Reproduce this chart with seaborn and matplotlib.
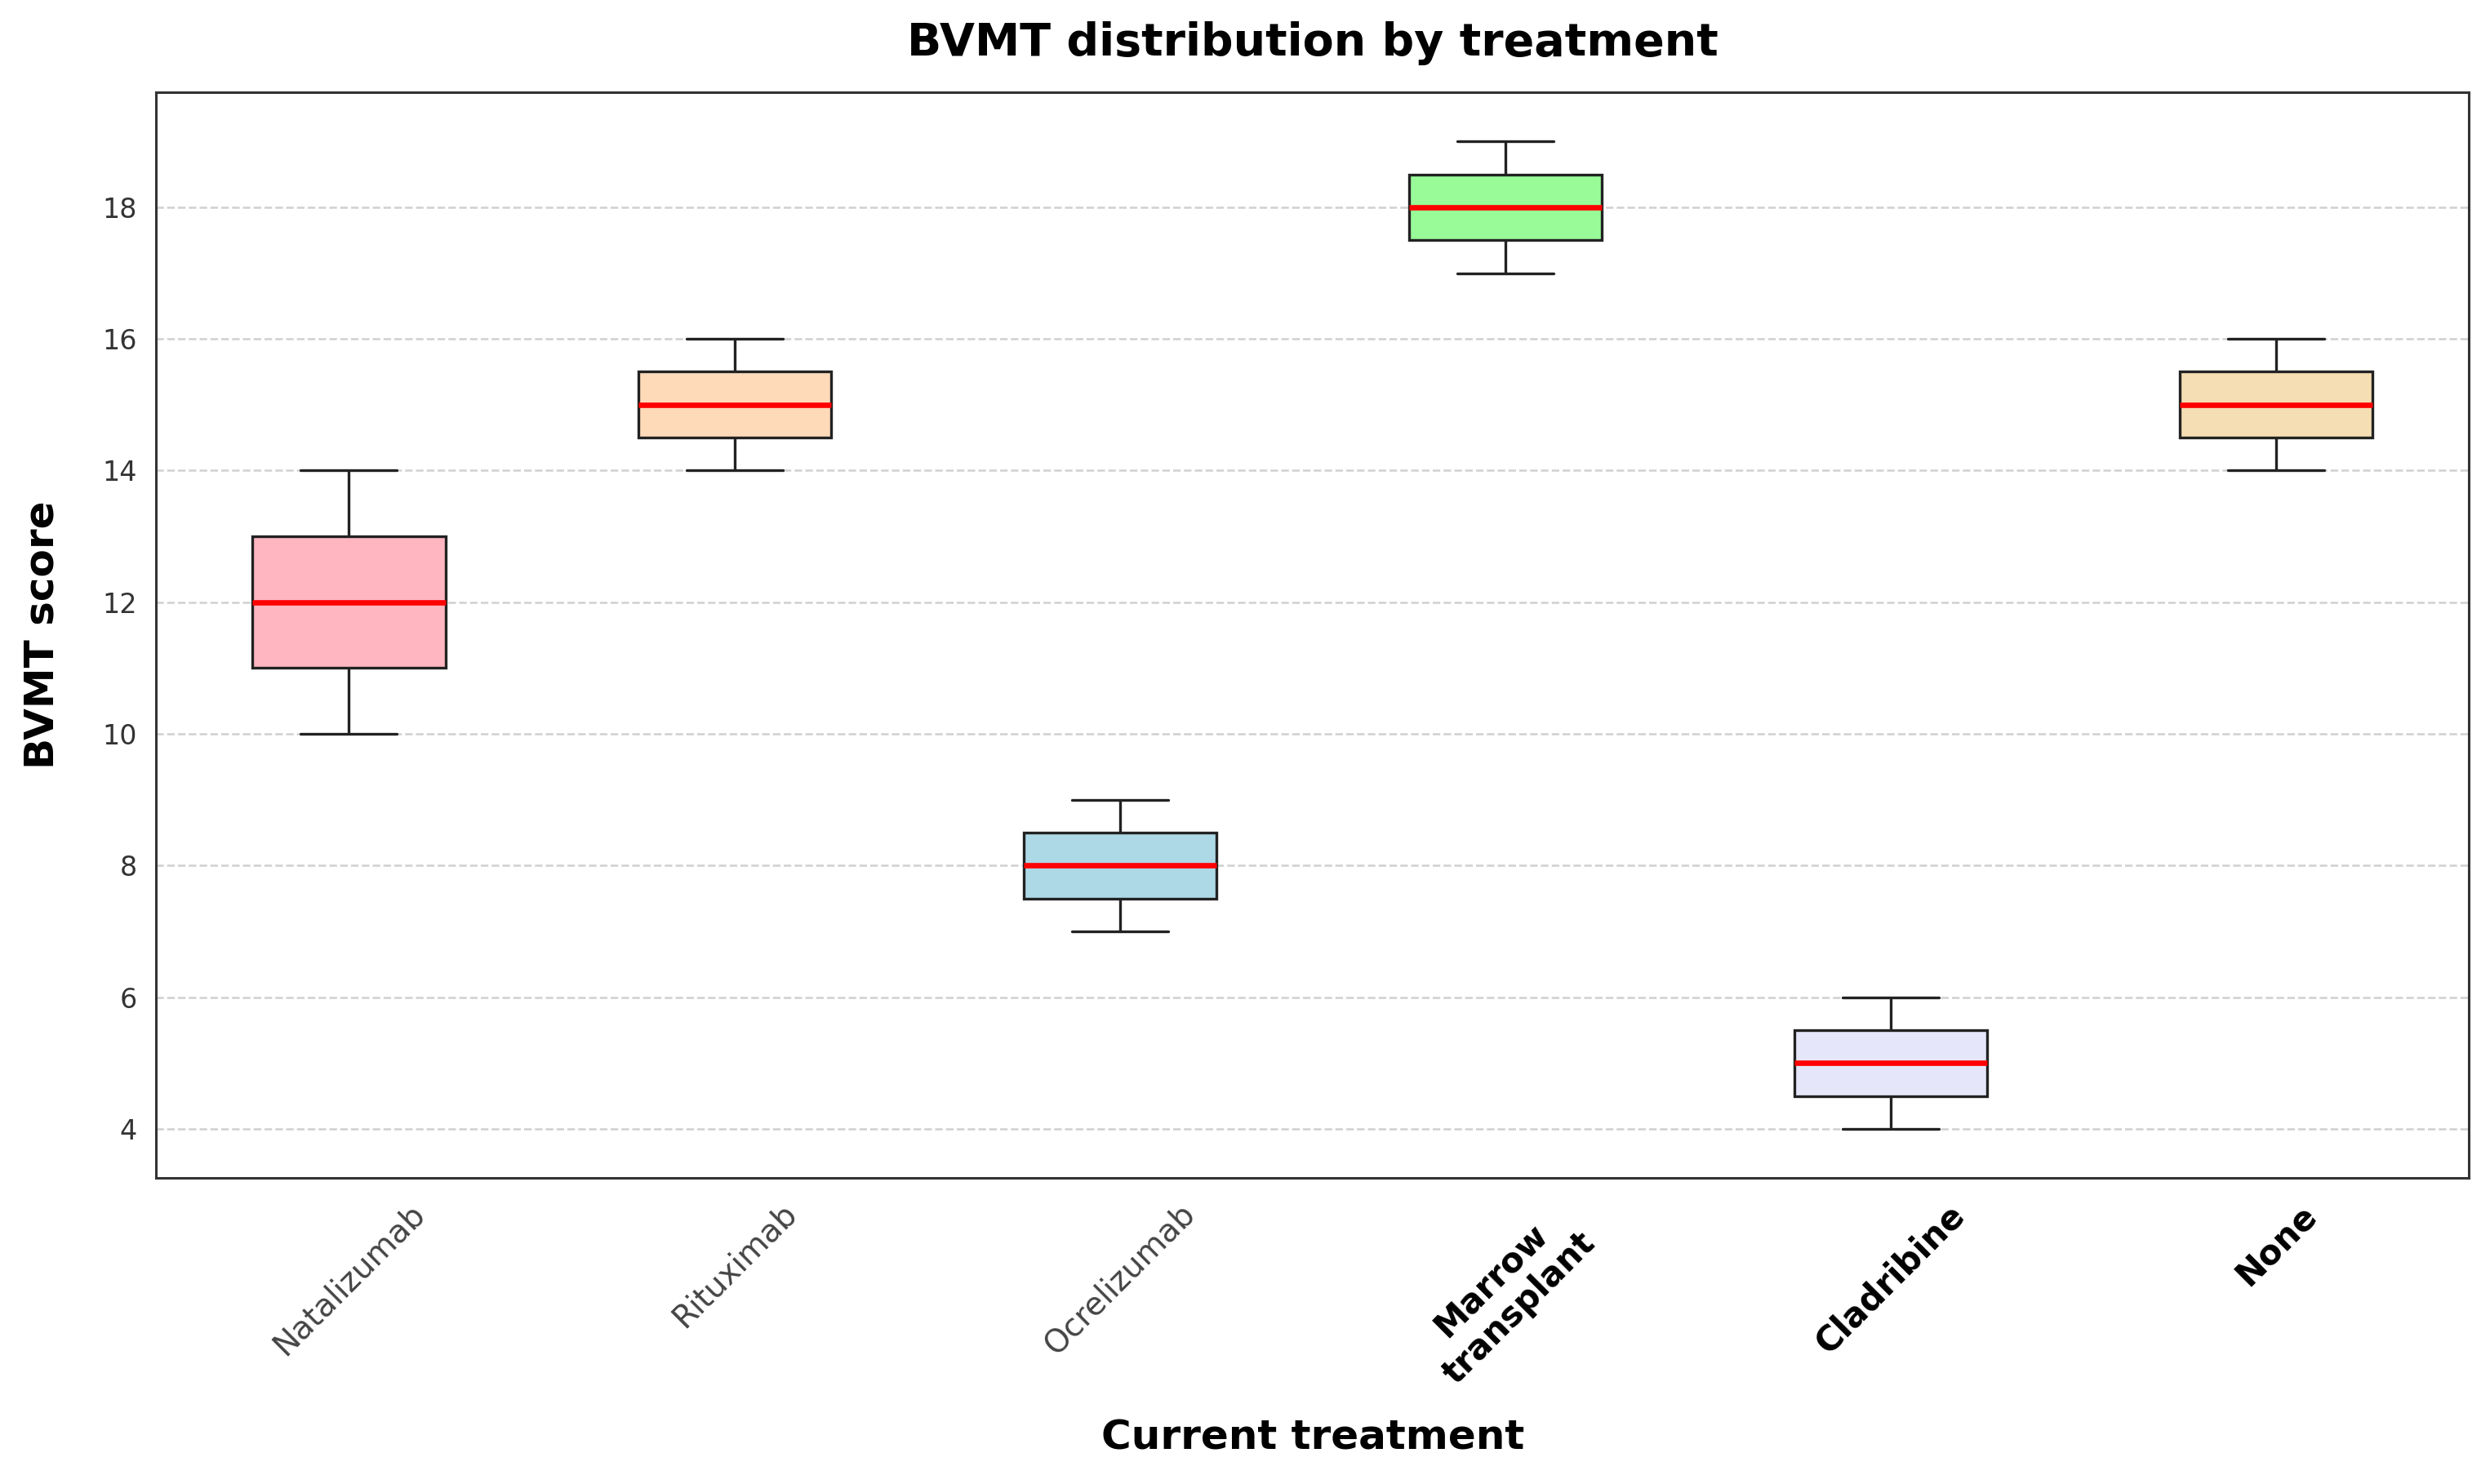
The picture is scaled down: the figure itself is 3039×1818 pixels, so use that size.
import pandas as pd
import matplotlib
matplotlib.use('Agg')
import matplotlib.pyplot as plt
import seaborn as sns

# Values: min, Q1, median, Q3, max per treatment
treatments = ['Natalizumab', 'Rituximab', 'Ocrelizumab', 'Marrow\ntransplant', 'Cladribine', 'None']
natalizumab = [10, 11, 12, 13, 14]
rituximab = [14, 14.5, 15, 15.5, 16]
ocrelizumab = [7, 7.5, 8, 8.5, 9]
marrow = [17, 17.5, 18, 18.5, 19]
cladribine = [4, 4.5, 5, 5.5, 6]
none = [14, 14.5, 15, 15.5, 16]
colors = ['#FFB6C1', '#FFDAB9', '#ADD8E6', '#98FB98', '#E6E6FA', '#F5DEB3']

groups = [natalizumab, rituximab, ocrelizumab, marrow, cladribine, none]
df = pd.DataFrame({
    'Current treatment': [t for t, g in zip(treatments, groups) for _ in g],
    'BVMT score': [v for g in groups for v in g],
})

sns.set_style('white')
plt.rcParams['font.family'] = ['DejaVu Sans']
plt.rcParams['text.color'] = 'black'
plt.rcParams['axes.labelcolor'] = 'black'

fig = plt.figure(figsize=(15.195, 9.09), dpi=200)
ax = fig.add_axes([0.063, 0.206, 0.932, 0.732])

sns.boxplot(data=df, x='Current treatment', y='BVMT score', hue='Current treatment',
            palette=colors, saturation=1, width=0.5, linecolor='#222222', linewidth=1.2,
            medianprops={'color': 'red', 'linewidth': 2.4}, ax=ax, legend=False)

ax.yaxis.grid(True, linestyle='--', color='#d0d0d0', linewidth=0.9)
ax.set_axisbelow(True)
for s in ax.spines.values():
    s.set_color('#333333')
    s.set_linewidth(1.1)

ax.set_title('BVMT distribution by treatment', fontsize=20, fontweight='bold',
             color='black', pad=16)
ax.set_xlabel('Current treatment', fontsize=18, fontweight='bold', labelpad=12)
ax.set_ylabel('BVMT score', fontsize=18, fontweight='bold', labelpad=18)
ax.set_yticks([4, 6, 8, 10, 12, 14, 16, 18])
ax.tick_params(axis='y', labelsize=12, labelcolor='#333333', length=5)
ax.tick_params(axis='x', length=5)
ax.set_xticks(range(len(treatments)))
ax.set_xticklabels(treatments, rotation=45, ha='center')
for i, lab in enumerate(ax.get_xticklabels()):
    if i < 3:
        lab.set_fontsize(14)
        lab.set_color('#444444')
    else:
        lab.set_fontsize(15)
        lab.set_fontweight('bold')
        lab.set_color('black')
ax.set_xlim(-0.5, 5.5)
ax.set_ylim(3.25, 19.75)

fig.savefig('out.png', dpi=200)
